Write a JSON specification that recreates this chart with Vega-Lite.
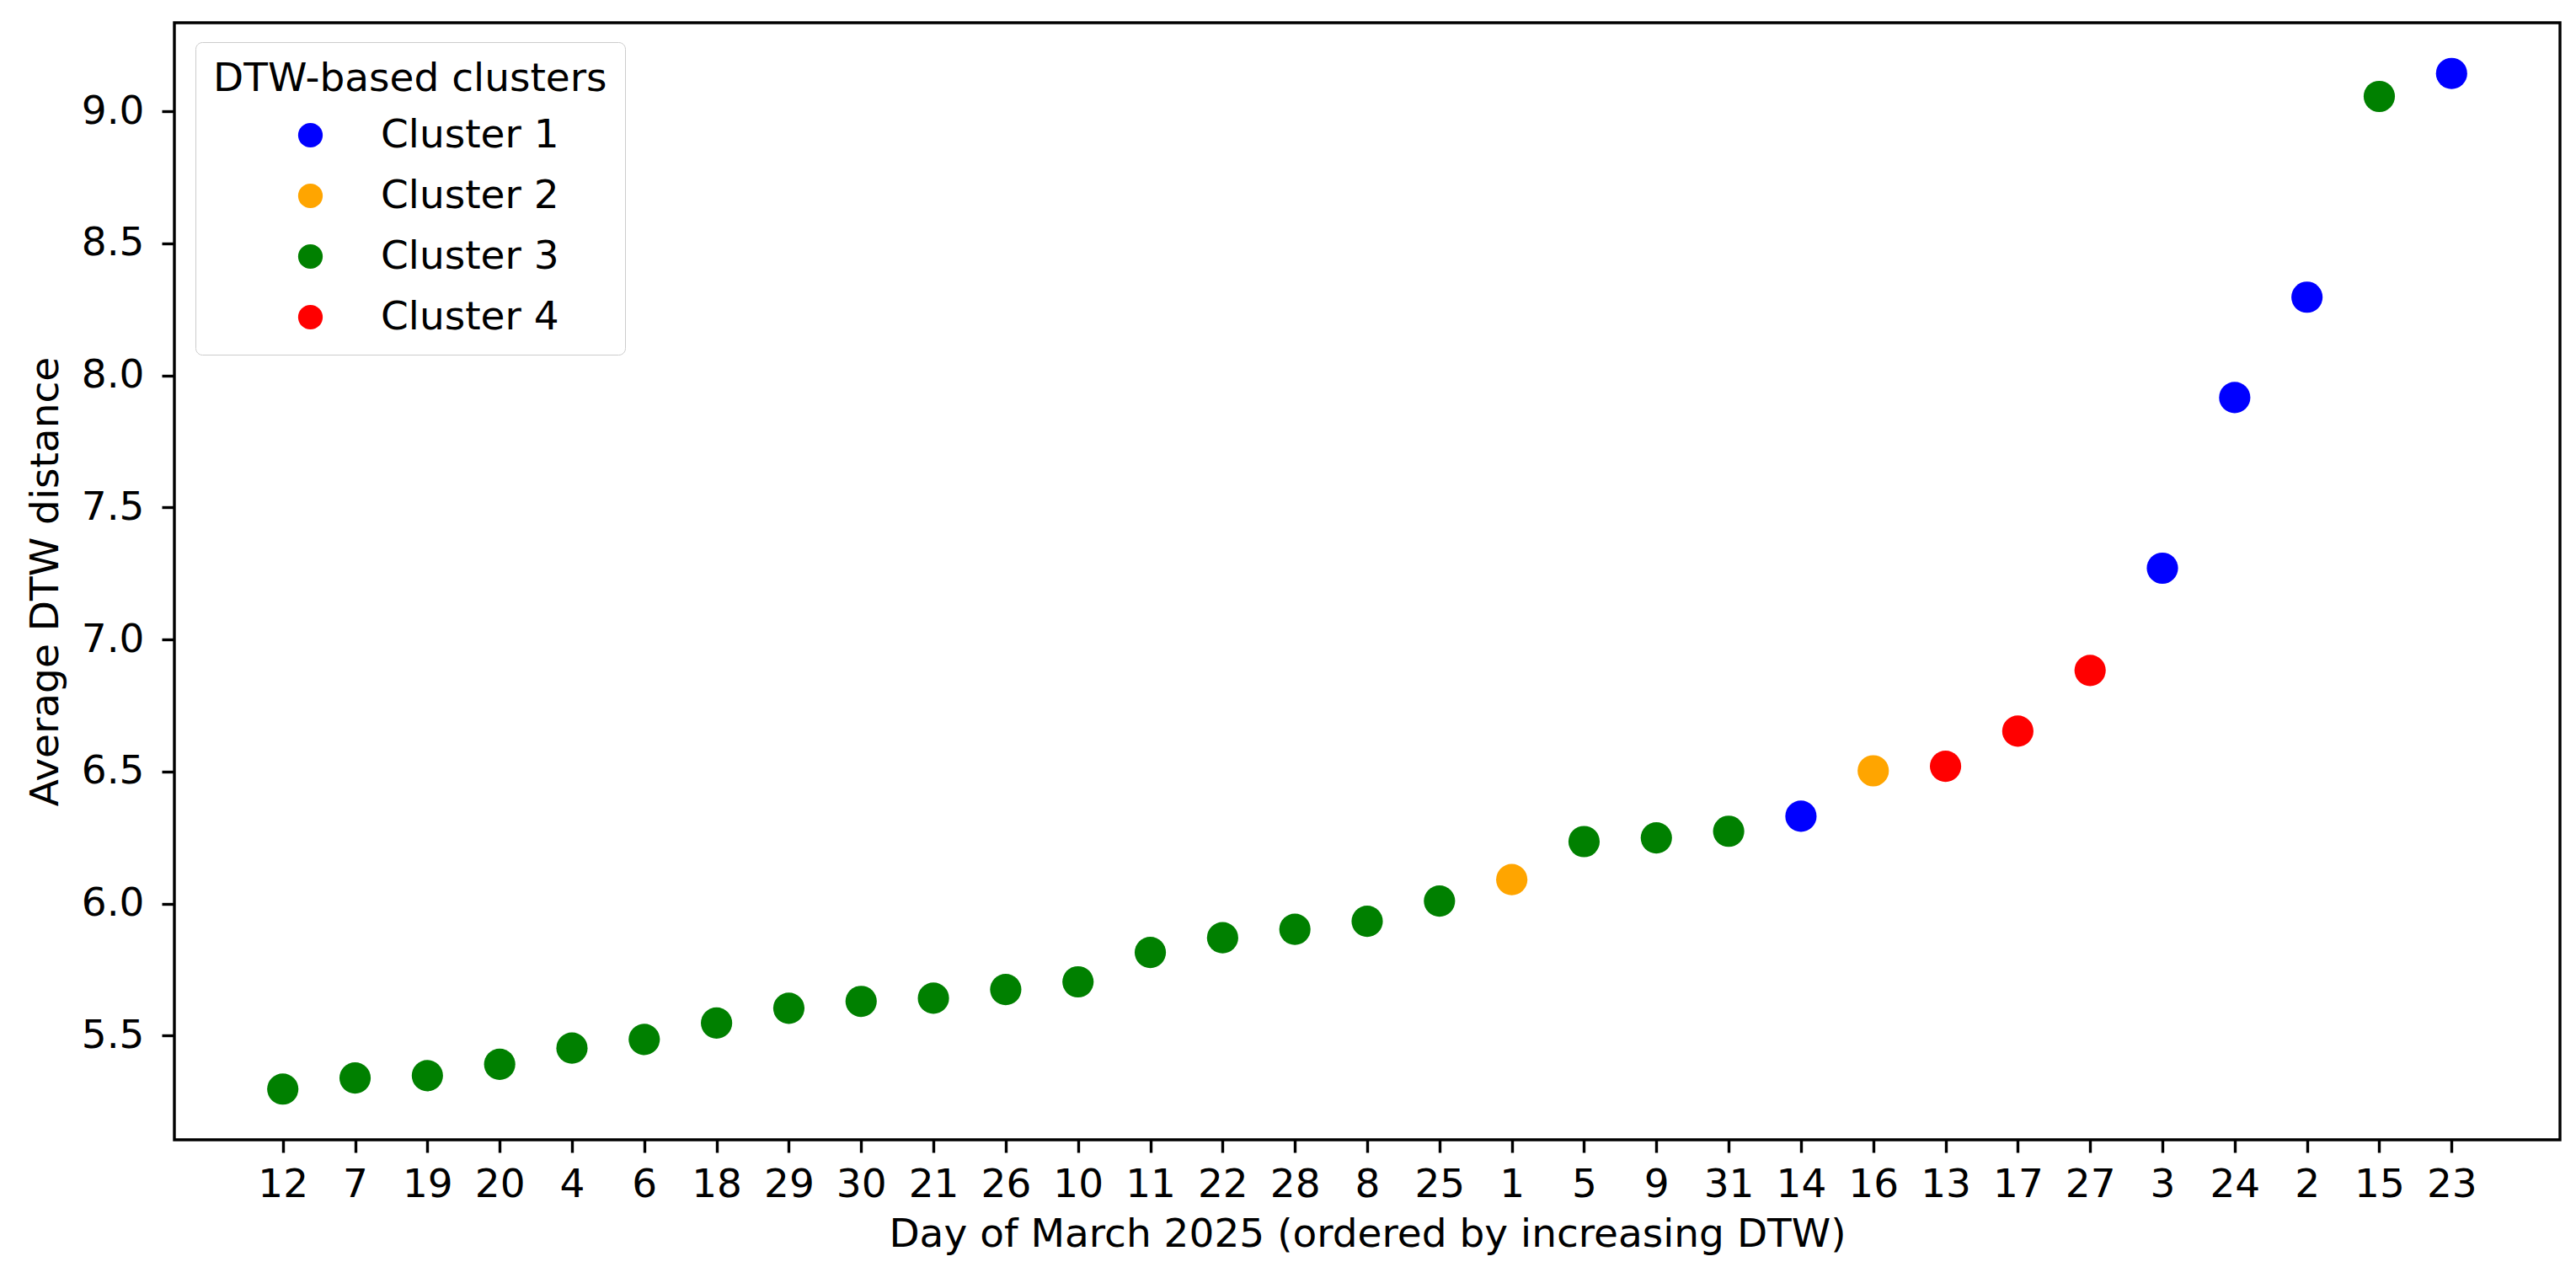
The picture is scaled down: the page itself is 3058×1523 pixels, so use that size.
{
  "$schema": "https://vega.github.io/schema/vega-lite/v6.json",
  "width": 2832,
  "height": 1326,
  "autosize": {"type": "none"},
  "padding": {"left": 207, "top": 27, "right": 19, "bottom": 170},
  "background": "white",
  "config": {
    "font": "DejaVu Sans",
    "view": {"stroke": "black", "strokeWidth": 3.4},
    "axis": {
      "domain": false,
      "grid": false,
      "tickColor": "black",
      "tickWidth": 3.4,
      "tickSize": 15,
      "labelColor": "black",
      "labelFontSize": 47,
      "titleFontSize": 47,
      "titleFontWeight": "normal",
      "titleColor": "black"
    }
  },
  "data": {
    "values": [
      {"day": "12", "dtw": 5.298, "cluster": "Cluster 3"},
      {"day": "7", "dtw": 5.340, "cluster": "Cluster 3"},
      {"day": "19", "dtw": 5.349, "cluster": "Cluster 3"},
      {"day": "20", "dtw": 5.392, "cluster": "Cluster 3"},
      {"day": "4", "dtw": 5.453, "cluster": "Cluster 3"},
      {"day": "6", "dtw": 5.486, "cluster": "Cluster 3"},
      {"day": "18", "dtw": 5.548, "cluster": "Cluster 3"},
      {"day": "29", "dtw": 5.604, "cluster": "Cluster 3"},
      {"day": "30", "dtw": 5.630, "cluster": "Cluster 3"},
      {"day": "21", "dtw": 5.642, "cluster": "Cluster 3"},
      {"day": "26", "dtw": 5.675, "cluster": "Cluster 3"},
      {"day": "10", "dtw": 5.704, "cluster": "Cluster 3"},
      {"day": "11", "dtw": 5.815, "cluster": "Cluster 3"},
      {"day": "22", "dtw": 5.871, "cluster": "Cluster 3"},
      {"day": "28", "dtw": 5.903, "cluster": "Cluster 3"},
      {"day": "8", "dtw": 5.933, "cluster": "Cluster 3"},
      {"day": "25", "dtw": 6.010, "cluster": "Cluster 3"},
      {"day": "1", "dtw": 6.091, "cluster": "Cluster 2"},
      {"day": "5", "dtw": 6.235, "cluster": "Cluster 3"},
      {"day": "9", "dtw": 6.249, "cluster": "Cluster 3"},
      {"day": "31", "dtw": 6.274, "cluster": "Cluster 3"},
      {"day": "14", "dtw": 6.331, "cluster": "Cluster 1"},
      {"day": "16", "dtw": 6.503, "cluster": "Cluster 2"},
      {"day": "13", "dtw": 6.520, "cluster": "Cluster 4"},
      {"day": "17", "dtw": 6.653, "cluster": "Cluster 4"},
      {"day": "27", "dtw": 6.883, "cluster": "Cluster 4"},
      {"day": "3", "dtw": 7.270, "cluster": "Cluster 1"},
      {"day": "24", "dtw": 7.916, "cluster": "Cluster 1"},
      {"day": "2", "dtw": 8.296, "cluster": "Cluster 1"},
      {"day": "15", "dtw": 9.056, "cluster": "Cluster 3"},
      {"day": "23", "dtw": 9.143, "cluster": "Cluster 1"}
    ]
  },
  "mark": {"type": "point", "filled": true, "opacity": 1, "size": 1380, "shape": "circle"},
  "encoding": {
    "x": {
      "field": "day",
      "type": "nominal",
      "sort": null,
      "scale": {"type": "point", "padding": 0, "range": [128.7, 2703.3]},
      "axis": {"title": "Day of March 2025 (ordered by increasing DTW)", "labelAngle": 0, "labelPadding": 15, "titlePadding": 13}
    },
    "y": {
      "field": "dtw",
      "type": "quantitative",
      "scale": {"domain": [5.106, 9.335], "nice": false, "zero": false},
      "axis": {"title": "Average DTW distance", "values": [5.5, 6.0, 6.5, 7.0, 7.5, 8.0, 8.5, 9.0], "format": ".1f", "labelPadding": 21, "titlePadding": 18}
    },
    "color": {
      "field": "cluster",
      "type": "nominal",
      "scale": {"domain": ["Cluster 1", "Cluster 2", "Cluster 3", "Cluster 4"], "range": ["#0000ff", "#ffa500", "#008000", "#ff0000"]},
      "legend": {
        "title": "DTW-based clusters",
        "orient": "none",
        "legendX": 25,
        "legendY": 23,
        "direction": "vertical",
        "fillColor": "white",
        "strokeColor": "#cccccc",
        "cornerRadius": 8,
        "padding": 21,
        "titleFontSize": 47,
        "titleFontWeight": "normal",
        "titleColor": "black",
        "titlePadding": 19,
        "titleLimit": 2000,
        "labelFontSize": 47,
        "labelColor": "black",
        "labelLimit": 2000,
        "symbolType": "circle",
        "symbolSize": 855,
        "symbolStrokeWidth": 0,
        "symbolOffset": 92,
        "labelOffset": 60,
        "rowPadding": 24,
        "encode": {"legend": {"update": {"strokeWidth": {"value": 3}}}}
      }
    }
  }
}
